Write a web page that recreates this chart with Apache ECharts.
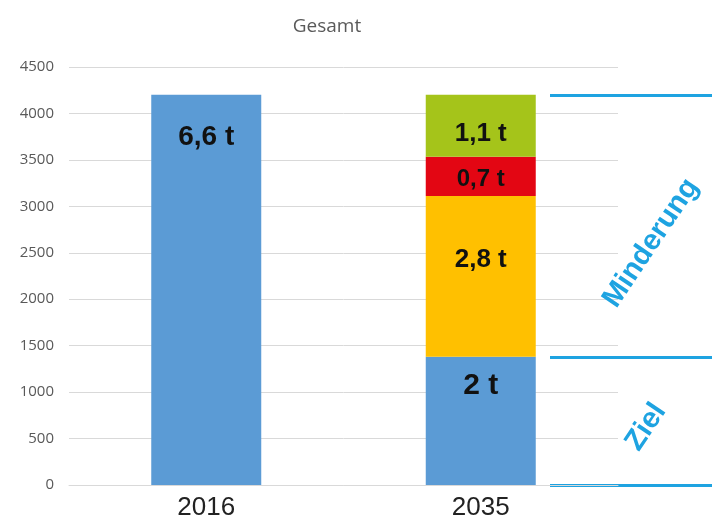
<!DOCTYPE html>
<html><head><meta charset="utf-8">
<script src="https://cdn.jsdelivr.net/npm/echarts@6/dist/echarts.min.js"></script>
<style>html,body{margin:0;padding:0;background:#fff}#c{width:712px;height:523px}</style>
</head><body><div id="c"></div>
<script>
const categories = ['2016', '2035'];
const blueValues = [4200, 1380];
const orangeValues = ['-', 1730];
const redValues = ['-', 425];
const greenValues = ['-', 665];
const blueLabels = ['6,6 t', '2 t'];
const orangeLabels = ['', '2,8 t'];
const redLabels = ['', '0,7 t'];
const greenLabels = ['', '1,1 t'];
const bracketValues = [4200, 1380, 0];
const yTicks = {min: 0, max: 4500, interval: 500};

const chart = echarts.init(document.getElementById('c'), null, {renderer: 'canvas'});
const lblBase = {show: true, color: '#111', fontFamily: 'Liberation Sans, Arial, sans-serif', fontWeight: 'bold', align: 'center', verticalAlign: 'middle'};
function mk(name, values, labels, color, offsets, sizes) {
  return {
    name, type: 'bar', stack: 'a', barWidth: 110,
    itemStyle: {color},
    data: values.map((v, i) => ({
      value: v,
      label: Object.assign({}, lblBase, {formatter: labels[i], position: ['50%', offsets[i]], fontSize: sizes[i]})
    }))
  };
}
chart.setOption({
  animation: false,
  title: {text: 'Gesamt', left: 322, top: 12, textAlign: 'center',
    textStyle: {fontFamily: 'Open Sans, sans-serif', fontWeight: 'normal', fontSize: 19, color: '#595959'}},
  grid: {left: 69, right: 94, top: 67, bottom: 38, containLabel: false},
  xAxis: {type: 'category', data: categories,
    axisLine: {lineStyle: {color: '#d9d9d9'}}, axisTick: {show: false},
    axisLabel: {fontSize: 26, color: '#222', fontFamily: 'Liberation Sans, Arial, sans-serif', margin: 10}},
  yAxis: {type: 'value', min: yTicks.min, max: yTicks.max, interval: yTicks.interval,
    axisLine: {show: false}, axisTick: {show: false},
    splitLine: {lineStyle: {color: '#d9d9d9'}},
    axisLabel: {fontSize: 15, color: '#595959', margin: 15, fontFamily: 'Open Sans, sans-serif', formatter: v => String(v)}},
  series: [
    mk('blue', blueValues, blueLabels, '#5b9bd5', [42, 29], [28, 30]),
    mk('orange', orangeValues, orangeLabels, '#ffc000', [0, 64], [0, 26]),
    mk('red', redValues, redLabels, '#e30613', [0, 23], [0, 24]),
    mk('green', greenValues, greenLabels, '#a5c41a', [0, 39], [0, 26])
  ]
});
const lineColor = '#1ea3e1';
const g = bracketValues.map(v => {
  const y = Math.round(chart.convertToPixel({yAxisIndex: 0}, v)) + 0.5;
  return {type: 'line', shape: {x1: 550, y1: y, x2: 712, y2: y}, style: {stroke: lineColor, lineWidth: 3}};
});
const tf = {fill: lineColor, fontFamily: 'Liberation Sans, Arial, sans-serif', fontWeight: 'bold', fontSize: 29, align: 'center', verticalAlign: 'middle'};
g.push({type: 'text', x: 651, y: 243, rotation: 56 * Math.PI / 180, style: Object.assign({text: 'Minderung'}, tf)});
g.push({type: 'text', x: 646, y: 427, rotation: 56 * Math.PI / 180, style: Object.assign({text: 'Ziel'}, tf)});
chart.setOption({graphic: g});
</script></body></html>
